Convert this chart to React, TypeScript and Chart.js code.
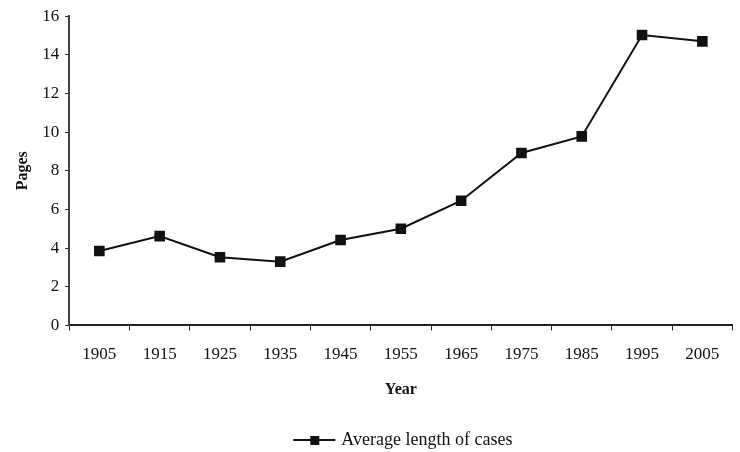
import React, { useEffect, useRef } from "react";
import { Chart, registerables } from "chart.js";

Chart.register(...registerables);

const years = ["1905", "1915", "1925", "1935", "1945", "1955", "1965", "1975", "1985", "1995", "2005"];
const avgLength = [3.85, 4.62, 3.53, 3.3, 4.42, 5.0, 6.45, 8.92, 9.78, 15.03, 14.7];
const seriesLabel = "Average length of cases";
const yTitle = "Pages";
const xTitle = "Year";

const FONT = "'Liberation Serif', 'Times New Roman', serif";

const legendPlugin = {
  id: "customLegend",
  afterDraw(chart: any) {
    const { ctx, chartArea } = chart;
    ctx.save();
    ctx.font = `18px ${FONT}`;
    const textW = ctx.measureText(seriesLabel).width;
    const lineW = 42;
    const gap = 6;
    const total = lineW + gap + textW;
    const cx = (chartArea.left + chartArea.right) / 2 + 2;
    const x0 = cx - total / 2;
    const y = 440;
    ctx.strokeStyle = "#111";
    ctx.lineWidth = 2;
    ctx.beginPath();
    ctx.moveTo(x0, y);
    ctx.lineTo(x0 + lineW, y);
    ctx.stroke();
    ctx.fillStyle = "#111";
    ctx.fillRect(x0 + lineW / 2 - 4, y - 4, 9, 9);
    ctx.textBaseline = "middle";
    ctx.textAlign = "left";
    ctx.fillText(seriesLabel, x0 + lineW + gap, y);
    ctx.restore();
  },
};

export default function App() {
  const ref = useRef<HTMLCanvasElement | null>(null);
  useEffect(() => {
    document.body.style.margin = "0";
    const chart = new Chart(ref.current!, {
      type: "line",
      data: {
        labels: years,
        datasets: [
          {
            label: seriesLabel,
            data: avgLength,
            borderColor: "#111",
            backgroundColor: "#111",
            borderWidth: 2,
            pointStyle: "rect",
            pointRadius: 7.5,
            pointBorderWidth: 0,
            tension: 0,
          },
        ],
      },
      options: {
        animation: false,
        responsive: false,
        layout: { padding: { top: 13, right: 0, left: 9, bottom: 49 } },
        plugins: { legend: { display: false }, tooltip: { enabled: false } },
        scales: {
          x: {
            offset: true,
            grid: { display: true, drawOnChartArea: false, offset: true, tickLength: 5, color: "#222", lineWidth: 1 },
            border: { color: "#222", width: 2 },
            ticks: { color: "#111", font: { family: FONT, size: 17 }, padding: 14 },
            title: { display: true, text: xTitle, color: "#111", font: { family: FONT, size: 16, weight: "bold" }, padding: { top: 1 } },
          },
          y: {
            min: 0,
            max: 16,
            ticks: { stepSize: 2, color: "#111", font: { family: FONT, size: 17 }, padding: 6 },
            grid: { display: true, drawOnChartArea: false, tickLength: 4, color: "#222" },
            border: { color: "#444", width: 2 },
            title: { display: true, text: yTitle, color: "#111", font: { family: FONT, size: 16, weight: "bold" }, padding: { bottom: 4 } },
          },
        },
      },
      plugins: [legendPlugin],
    });
    return () => chart.destroy();
  }, []);
  return (
    <div style={{ width: 740, height: 452, background: "#fff" }}>
      <canvas ref={ref} width={740} height={452} />
    </div>
  );
}
